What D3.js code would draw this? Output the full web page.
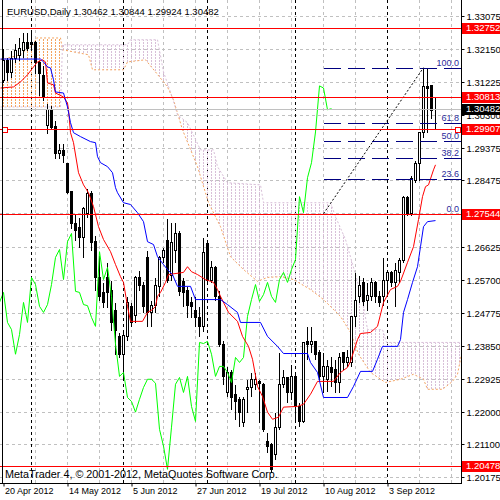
<!DOCTYPE html>
<html>
<head>
<meta charset="utf-8">
<script src="https://d3js.org/d3.v7.min.js"></script>
<style>
  body { margin: 0; background: #fff; }
  svg { display: block; font-family: "Liberation Sans", Arial, sans-serif; }
</style>
</head>
<body>
<svg width="500" height="500"></svg>
<script>
// ---- data (EURUSD daily, 20 Apr - 19 Sep 2012) ----
var title = "EURUSD,Daily";
var opens = [1.3129,1.3185,1.3151,1.3190,1.3199,1.3213,1.3235,1.3235,1.3235,1.3179,
  1.3143,1.3003,1.3045,1.3000,1.2925,1.2933,1.2897,1.2819,1.2727,1.2718,
  1.2690,1.2757,1.2813,1.2679,1.2578,1.2534,1.2576,1.2542,1.2486,1.2411,
  1.2361,1.2411,1.2495,1.2472,1.2578,1.2556,1.2634,1.2478,1.2500,1.2551,
  1.2632,1.2682,1.2584,1.2654,1.2701,1.2565,1.2542,1.2506,1.2486,1.2464,
  1.2439,1.2673,1.2570,1.2604,1.2523,1.2389,1.2254,1.2310,1.2249,1.2235,
  1.2171,1.2263,1.2268,1.2277,1.2285,1.2277,1.2118,1.2109,1.2081,1.2157,
  1.2277,1.2296,1.2254,1.2299,1.2215,1.2173,1.2397,1.2391,1.2397,1.2366,
  1.2299,1.2291,1.2324,1.2319,1.2282,1.2366,1.2338,1.2338,1.2467,1.2523,
  1.2562,1.2514,1.2523,1.2562,1.2523,1.2523,1.2570,1.2590,1.2562,1.2590,
  1.2626,1.2802,1.2757,1.2849,1.2897,1.2983,1.3112,1.3115,1.30462];
var highs = [1.3218,1.3193,1.3213,1.3232,1.3249,1.3263,1.3263,1.3268,1.3240,1.3185,
  1.3171,1.3064,1.3059,1.3017,1.2953,1.2953,1.2900,1.2821,1.2757,1.2746,
  1.2777,1.2827,1.2821,1.2696,1.2640,1.2562,1.2618,1.2570,1.2506,1.2422,
  1.2430,1.2523,1.2506,1.2584,1.2598,1.2565,1.2654,1.2514,1.2578,1.2640,
  1.2662,1.2743,1.2732,1.2732,1.2710,1.2578,1.2551,1.2523,1.2523,1.2495,
  1.2690,1.2682,1.2626,1.2612,1.2542,1.2402,1.2327,1.2319,1.2277,1.2243,
  1.2243,1.2291,1.2310,1.2310,1.2291,1.2282,1.2143,1.2115,1.2199,1.2366,
  1.2319,1.2299,1.2333,1.2305,1.2226,1.2394,1.2439,1.2439,1.2397,1.2375,
  1.2366,1.2347,1.2355,1.2347,1.2366,1.2369,1.2375,1.2472,1.2590,1.2584,
  1.2578,1.2562,1.2576,1.2570,1.2542,1.2634,1.2598,1.2598,1.2620,1.2634,
  1.2808,1.2808,1.2863,1.2905,1.2983,1.3162,1.3165,1.3118,1.30844];
var lows = [1.3123,1.3129,1.3137,1.3179,1.3185,1.3193,1.3213,1.3213,1.3148,1.3087,
  1.3073,1.2981,1.2995,1.2911,1.2911,1.2900,1.2813,1.2715,1.2682,1.2662,
  1.2634,1.2746,1.2654,1.2542,1.2514,1.2492,1.2492,1.2430,1.2361,1.2352,
  1.2291,1.2402,1.2439,1.2450,1.2542,1.2478,1.2439,1.2439,1.2478,1.2523,
  1.2620,1.2562,1.2570,1.2620,1.2528,1.2495,1.2464,1.2464,1.2439,1.2411,
  1.2425,1.2565,1.2562,1.2514,1.2383,1.2277,1.2243,1.2207,1.2179,1.2160,
  1.2160,1.2199,1.2243,1.2263,1.2171,1.2146,1.2087,1.2031,1.2067,1.2151,
  1.2268,1.2226,1.2235,1.2179,1.2160,1.2171,1.2347,1.2366,1.2347,1.2291,
  1.2254,1.2257,1.2271,1.2254,1.2254,1.2319,1.2327,1.2327,1.2439,1.2506,
  1.2500,1.2486,1.2514,1.2506,1.2495,1.2500,1.2523,1.2551,1.2495,1.2562,
  1.2618,1.2752,1.2752,1.2844,1.2849,1.2970,1.2983,1.3023,1.29924];
var closes = [1.3185,1.3151,1.3190,1.3213,1.3218,1.3235,1.3218,1.3229,1.3179,1.3148,
  1.3081,1.3048,1.2997,1.2925,1.2933,1.2919,1.2816,1.2727,1.2710,1.2690,
  1.2771,1.2813,1.2676,1.2578,1.2523,1.2506,1.2534,1.2450,1.2430,1.2361,
  1.2416,1.2506,1.2450,1.2576,1.2556,1.2495,1.2478,1.2500,1.2556,1.2632,
  1.2654,1.2570,1.2676,1.2699,1.2537,1.2534,1.2500,1.2497,1.2464,1.2439,
  1.2648,1.2570,1.2604,1.2523,1.2389,1.2299,1.2310,1.2240,1.2229,1.2199,
  1.2235,1.2268,1.2291,1.2291,1.2280,1.2151,1.2104,1.2039,1.2157,1.2277,
  1.2296,1.2254,1.2299,1.2215,1.2173,1.2394,1.2391,1.2397,1.2361,1.2299,
  1.2327,1.2327,1.2310,1.2282,1.2352,1.2338,1.2352,1.2467,1.2514,1.2556,
  1.2509,1.2528,1.2562,1.2523,1.2506,1.2570,1.2590,1.2562,1.2598,1.2626,
  1.2802,1.2757,1.2855,1.2897,1.2983,1.3112,1.3106,1.3045,1.30482];

// ichimoku lines, [bar, price]
var tenkan = [[-0.75,1.3106],[2.5,1.3109],[4.25,1.3123],[6,1.3143],[7.5,1.3165],[8.5,1.3179],
  [9.75,1.3185],[10.5,1.3179],[11,1.3120],[12.5,1.3115],[13,1.3092],[15,1.3081],[16,1.3064],
  [16.25,1.3045],[16.75,1.2981],[17.5,1.2953],[18.75,1.2869],[20,1.2835],[21.25,1.2813],
  [22.5,1.2774],[23.75,1.2718],[25,1.2682],[26.75,1.2648],[28,1.2612],[29.25,1.2578],
  [30,1.2562],[31,1.2495],[31.75,1.2453],[34.75,1.2453],[36,1.2478],[37.25,1.2486],
  [38,1.2495],[38.5,1.2523],[39.25,1.2534],[40.5,1.2562],[41.25,1.2584],[45,1.2590],
  [46,1.2606],[47,1.2592],[48.5,1.2584],[50.5,1.2570],[51.75,1.2565],[52.5,1.2562],
  [53.5,1.2542],[54.25,1.2523],[56.25,1.2478],[58.5,1.2453],[59.75,1.2411],[61.25,1.2383],
  [62.25,1.2347],[63.5,1.2271],[64.75,1.2243],[66,1.2199],[67.25,1.2179],[68.75,1.2185],
  [70,1.2213],[73.5,1.2215],[75,1.2221],[76.75,1.2249],[78.5,1.2285],[82.5,1.2285],
  [84.25,1.2310],[86,1.2324],[86.75,1.2341],[88.5,1.2402],[89.25,1.2419],[91.75,1.2422],
  [93.5,1.2439],[95,1.2506],[96.75,1.2542],[98.5,1.2551],[99.25,1.2565],[101,1.2618],
  [102.5,1.2662],[103.75,1.2738],[104.75,1.2802],[105.5,1.2830],[106.25,1.2835],
  [107.5,1.2877],[108,1.2891]];
var kijun = [[-0.75,1.3187],[9.25,1.3187],[10,1.3179],[11,1.3165],[11.75,1.3162],[12.5,1.3129],
  [13,1.3095],[15,1.3092],[16,1.3053],[16.75,1.3009],[17.5,1.2981],[19.25,1.2970],
  [21.75,1.2956],[23,1.2953],[23.5,1.2914],[24.25,1.2897],[26,1.2886],[27.25,1.2869],
  [28,1.2827],[28.5,1.2813],[30,1.2785],[31.75,1.2780],[33.5,1.2757],[35,1.2732],
  [36,1.2676],[37.5,1.2668],[38.5,1.2634],[40,1.2612],[41,1.2598],[42.25,1.2584],
  [43.5,1.2551],[46.75,1.2551],[48,1.2514],[54.25,1.2514],[56,1.2500],[58.5,1.2478],
  [59.25,1.2450],[64.25,1.2450],[66,1.2411],[68.5,1.2383],[70,1.2363],[76,1.2363],
  [76.75,1.2338],[78.5,1.2310],[80,1.2240],[86,1.2240],[87.5,1.2271],[89.25,1.2313],
  [92.25,1.2313],[93.5,1.2347],[94.75,1.2383],[98.5,1.2383],[99.25,1.2402],[100,1.2478],
  [101,1.2514],[102.25,1.2562],[103.5,1.2606],[104.25,1.2662],[105,1.2718],[106,1.2732],
  [108,1.2735]];
var senkouA = [[-0.75,1.3185],[4.25,1.3199],[7.5,1.3227],[8.25,1.3246],[14.25,1.3246],
  [14.75,1.3213],[21.25,1.3199],[22.25,1.3157],[30,1.3157],[31,1.3179],[35.5,1.3185],
  [38,1.3151],[41,1.3109],[42.5,1.3073],[44.75,1.2989],[48.5,1.2886],[51.25,1.2785],
  [54.25,1.2718],[56.75,1.2634],[60,1.2598],[63.5,1.2565],[66,1.2576],[69.25,1.2578],
  [72.5,1.2570],[76.75,1.2542],[80,1.2514],[84.25,1.2467],[86.75,1.2422],[88.75,1.2361],
  [91.75,1.2310],[95.5,1.2282],[99.25,1.2291],[102.5,1.2305],[105,1.2291],[106,1.2263],
  [109.75,1.2263],[112.25,1.2285],[113.5,1.2305],[114.5,1.2361]];
var senkouB = [[-0.75,1.3053],[14.25,1.3053],[14.75,1.3227],[31,1.3227],[31.75,1.3241],
  [38.5,1.3241],[40,1.3151],[42.25,1.3078],[43.5,1.3031],[46,1.3009],[49.25,1.2933],
  [52.5,1.2933],[53.5,1.2886],[56,1.2841],[64.25,1.2835],[65,1.2785],[81.75,1.2785],
  [83,1.2746],[85.5,1.2682],[88,1.2584],[89.75,1.2514],[91,1.2430],[94.75,1.2430],
  [95.75,1.2394],[114.5,1.2394]];
var chikouShift = 26;

var priceTicks = [1.33075,1.32150,1.31225,1.30300,1.29375,1.28475,1.27550,1.26625,
  1.25700,1.24775,1.23850,1.22925,1.22000,1.21100,1.20175];
var dateLabels = ["20 Apr 2012","14 May 2012","5 Jun 2012","27 Jun 2012","19 Jul 2012","10 Aug 2012","3 Sep 2012"];
var dateTickBars = [0,16,32,48,64,80,96];
var monthStartBars = [7,30,51,73,96];
var hLines = [1.32752,1.30813,1.29907,1.27544,1.20478];
var selectedLine = 1.29907;
var bidPrice = 1.30482;
var fibLevels = [0,23.6,38.2,50.0,61.8,100.0];
var fibLow = 1.27544, fibHigh = 1.3163, fibFromBar = 80, fibToBar = 105;

// ---- layout ----
var svg = d3.select("svg"),
    plotW = 461, plotH = 483;

var x = d3.scaleLinear().domain([0, 108]).range([3.5, 435.5]);
var y = d3.scaleLinear().domain([1.20175, 1.33075]).range([477, 16]);
var py = function (p) { return Math.round(y(p)) + 0.5; };

svg.append("rect").attr("width", 500).attr("height", 500).attr("fill", "#fff");

var defs = svg.append("defs");
defs.append("clipPath").attr("id", "plotclip")
    .append("rect").attr("width", plotW).attr("height", plotH);

function hatch(id, color) {
    defs.append("pattern").attr("id", id)
        .attr("patternUnits", "userSpaceOnUse")
        .attr("width", 4).attr("height", 3)
        .append("rect").attr("x", 3).attr("y", 0).attr("width", 1).attr("height", 2)
        .attr("fill", color);
}
hatch("hatchA", "#f4a460");
hatch("hatchB", "#d8bfd8");

var underLine = d3.area().x(function (d) { return x(d[0]); }).y0(plotH).y1(function (d) { return y(d[1]); });
var overLine = d3.area().x(function (d) { return x(d[0]); }).y0(0).y1(function (d) { return y(d[1]); });
function clip(id, gen, data) {
    defs.append("clipPath").attr("id", id).append("path").attr("d", gen(data));
}
clip("underA", underLine, senkouA);
clip("overA", overLine, senkouA);
clip("underB", underLine, senkouB);
clip("overB", overLine, senkouB);

var plot = svg.append("g").attr("clip-path", "url(#plotclip)");

// grid
var grid = plot.append("g")
    .attr("stroke", "#c0c0c0")
    .attr("stroke-dasharray", "3,3")
    .attr("shape-rendering", "crispEdges");
grid.selectAll("line.h").data(priceTicks).enter().append("line")
    .attr("x1", 0).attr("x2", plotW)
    .attr("y1", py).attr("y2", py);
grid.selectAll("line.v").data(d3.range(8, 116, 8)).enter().append("line")
    .attr("x1", function (d) { return x(d); }).attr("x2", function (d) { return x(d); })
    .attr("y1", 0).attr("y2", plotH);

plot.append("g")
    .attr("stroke", "#000")
    .attr("stroke-dasharray", "3,3")
    .attr("shape-rendering", "crispEdges")
    .selectAll("line").data(monthStartBars).enter().append("line")
    .attr("x1", function (d) { return x(d); }).attr("x2", function (d) { return x(d); })
    .attr("y1", 0).attr("y2", plotH);

// kumo
plot.append("g").attr("clip-path", "url(#underA)")
    .append("g").attr("clip-path", "url(#overB)")
    .append("rect").attr("width", plotW).attr("height", plotH).attr("fill", "url(#hatchA)");
plot.append("g").attr("clip-path", "url(#underB)")
    .append("g").attr("clip-path", "url(#overA)")
    .append("rect").attr("width", plotW).attr("height", plotH).attr("fill", "url(#hatchB)");

var line = d3.line().x(function (d) { return x(d[0]); }).y(function (d) { return y(d[1]); });
plot.append("path").attr("d", line(senkouA)).attr("fill", "none")
    .attr("stroke", "#f4a460").attr("stroke-dasharray", "2,2");
plot.append("path").attr("d", line(senkouB)).attr("fill", "none")
    .attr("stroke", "#d8bfd8").attr("stroke-dasharray", "2,2");

// candles
var bars = closes.map(function (c, i) {
    return { i: i, o: opens[i], h: highs[i], l: lows[i], c: c };
});
var candle = plot.append("g").attr("shape-rendering", "crispEdges")
    .selectAll("g").data(bars).enter().append("g");
candle.append("line")
    .attr("x1", function (d) { return x(d.i); }).attr("x2", function (d) { return x(d.i); })
    .attr("y1", function (d) { return py(d.h); }).attr("y2", function (d) { return py(d.l); })
    .attr("stroke", "#000");
candle.append("rect")
    .attr("x", function (d) { return x(d.i) - 1; })
    .attr("width", 2)
    .attr("y", function (d) { return py(Math.max(d.o, d.c)); })
    .attr("height", function (d) { return py(Math.min(d.o, d.c)) - py(Math.max(d.o, d.c)); })
    .attr("fill", function (d) { return d.c >= d.o ? "#fff" : "#000"; })
    .attr("stroke", "#000");

// chikou, tenkan, kijun
var chikou = bars.filter(function (d) { return d.i >= chikouShift - 1; })
    .map(function (d) { return [d.i - chikouShift, d.c]; });
plot.append("path").attr("d", line(chikou)).attr("fill", "none").attr("stroke", "#00ff00");
plot.append("path").attr("d", line(tenkan)).attr("fill", "none").attr("stroke", "#ff0000");
plot.append("path").attr("d", line(kijun)).attr("fill", "none").attr("stroke", "#0000ff");

// bid line
plot.append("line").attr("x1", 0).attr("x2", plotW)
    .attr("y1", py(bidPrice)).attr("y2", py(bidPrice))
    .attr("stroke", "#c0c0c0").attr("shape-rendering", "crispEdges");

// fibonacci
var fibPrice = function (lv) { return fibLow + (fibHigh - fibLow) * lv / 100; };
var fib = plot.append("g");
fib.selectAll("line").data(fibLevels).enter().append("line")
    .attr("x1", x(fibFromBar)).attr("x2", plotW)
    .attr("y1", function (d) { return py(fibPrice(d)); })
    .attr("y2", function (d) { return py(fibPrice(d)); })
    .attr("stroke", "#000080").attr("stroke-dasharray", "17,7")
    .attr("shape-rendering", "crispEdges");
fib.selectAll("text").data(fibLevels).enter().append("text")
    .attr("x", 459).attr("y", function (d) { return py(fibPrice(d)) - 3; })
    .attr("text-anchor", "end").attr("font-size", 9).attr("fill", "#2a2a9a")
    .text(function (d) { return d.toFixed(1); });
fib.append("line")
    .attr("x1", x(fibFromBar)).attr("y1", y(fibLow))
    .attr("x2", x(fibToBar)).attr("y2", y(fibHigh))
    .attr("stroke", "#000").attr("stroke-dasharray", "2,2");

// horizontal lines
plot.append("g").selectAll("line").data(hLines).enter().append("line")
    .attr("x1", 0).attr("x2", plotW)
    .attr("y1", py).attr("y2", py)
    .attr("stroke", "#ff0000").attr("shape-rendering", "crispEdges");
plot.selectAll("rect.sel").data([5, 458]).enter().append("rect")
    .attr("x", function (d) { return d - 2.5; }).attr("y", py(selectedLine) - 2.5)
    .attr("width", 5).attr("height", 5)
    .attr("fill", "#fff").attr("stroke", "#ff0000").attr("shape-rendering", "crispEdges");

// frame
var frame = svg.append("g").attr("stroke", "#000").attr("shape-rendering", "crispEdges");
frame.append("line").attr("x1", 2.5).attr("x2", 2.5).attr("y1", 0).attr("y2", plotH);
frame.append("line").attr("x1", plotW + 0.5).attr("x2", plotW + 0.5).attr("y1", 0).attr("y2", plotH + 1);
frame.append("line").attr("x1", 0).attr("x2", plotW + 1).attr("y1", plotH + 0.5).attr("y2", plotH + 0.5);

// price axis; the 1.30300 label sits half under the bid box, as in MT4
var yAxis = svg.append("g")
    .attr("transform", "translate(" + (plotW + 0.5) + ",0)")
    .call(d3.axisRight(y).tickValues(priceTicks).tickFormat(d3.format(".5f")).tickSize(3).tickPadding(2));
yAxis.select(".domain").remove();
yAxis.attr("font-family", null).attr("font-size", 9.5);
yAxis.selectAll(".tick").attr("transform", function (d) { return "translate(0," + py(d) + ")"; });
defs.append("clipPath").attr("id", "belowbid")
    .append("rect").attr("x", -10).attr("y", Math.round(y(bidPrice)) + 6 - py(1.30300))
    .attr("width", 60).attr("height", 20);
yAxis.selectAll(".tick text").filter(function (d) { return d === 1.30300; })
    .attr("clip-path", "url(#belowbid)");

// date axis
var xAxis = svg.append("g")
    .attr("transform", "translate(0," + (plotH + 0.5) + ")")
    .call(d3.axisBottom(x).tickValues(dateTickBars)
        .tickFormat(function (d, i) { return dateLabels[i]; }).tickSize(3));
xAxis.select(".domain").remove();
xAxis.attr("font-family", null).attr("font-size", 9);
xAxis.selectAll(".tick text").attr("text-anchor", "start").attr("x", 1).attr("y", 4);

// price boxes
var boxes = hLines.map(function (p) { return { p: p, fill: "#ff0000" }; })
    .concat([{ p: bidPrice, fill: "#000" }]);
var box = svg.append("g").selectAll("g").data(boxes).enter().append("g")
    .attr("transform", function (d) { return "translate(462," + Math.round(y(d.p)) + ")"; });
box.append("rect").attr("x", 0).attr("y", -5).attr("width", 38).attr("height", 11)
    .attr("fill", function (d) { return d.fill; });
box.append("text").attr("x", 4).attr("y", 0).attr("dy", "0.35em")
    .attr("font-size", 9.5).attr("fill", "#fff")
    .text(function (d) { return d3.format(".5f")(d.p); });

// header and footer
var last = bars[bars.length - 1];
svg.append("text").attr("x", 7).attr("y", 14.5).attr("font-size", 9.5).attr("fill", "#000")
    .text(title + "  " + [last.o, last.h, last.l, last.c].map(d3.format(".5f")).join(" "));
svg.append("text").attr("x", 5).attr("y", 478).attr("font-size", 10.8).attr("fill", "#000")
    .text("MetaTrader 4, \u00a9 2001-2012, MetaQuotes Software Corp.");
</script>
</body>
</html>
